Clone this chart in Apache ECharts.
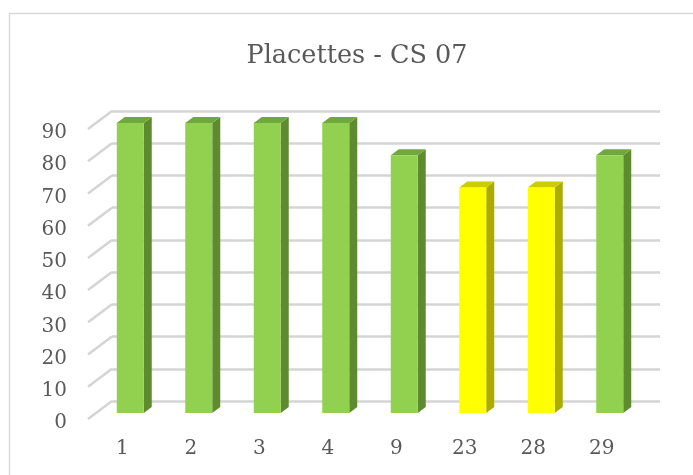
<!DOCTYPE html>
<html><head><meta charset="utf-8">
<script src="https://cdn.jsdelivr.net/npm/echarts@6/dist/echarts.min.js"></script>
<style>html,body{margin:0;padding:0;background:#fff}#c{width:693px;height:475px}</style>
</head><body><div id="c"></div>
<script>
const categories = ['1','2','3','4','9','23','28','29'];
const values = [90,90,90,90,80,70,70,80];
const barKinds = ['g','g','g','g','g','y','y','g'];
const yTicks = [0,10,20,30,40,50,60,70,80,90];

const palette = {
  g: {front:'#92D050', side:'#5F8B2F', top:'#71A83D'},
  y: {front:'#FFFF00', side:'#ABAB00', top:'#CCCC00'}
};
const FONT = 'DejaVu Serif';
const DX = -24, DY = 18; // wall depth
const chart = echarts.init(document.getElementById('c'), null, {renderer:'canvas'});

function barItem(params, api){
  const idx = params.dataIndex;
  const c = api.coord([api.value(0), api.value(1)]);
  const c0 = api.coord([api.value(0), 0]);
  const w = api.size([1,0])[0]*0.394;
  const fx = -16, fy = 12, bx = 8, by = -6;
  const x0 = c[0]-w/2+fx, x1 = x0+w, yT = c[1]+fy, yB = c0[1]+fy;
  const col = palette[barKinds[idx]];
  return {type:'group', children:[
    {type:'polygon', shape:{points:[[x1,yT],[x1+bx,yT+by],[x1+bx,yB+by],[x1,yB]]}, style:{fill:col.side}},
    {type:'polygon', shape:{points:[[x0,yT],[x0+bx,yT+by],[x1+bx,yT+by],[x1,yT]]}, style:{fill:col.top}},
    {type:'rect', shape:{x:x0,y:yT,width:w,height:yB-yT}, style:{fill:col.front}}
  ]};
}
function diagItem(params, api){
  const p = api.coord([0, api.value(0)]);
  const left = p[0]-api.size([1,0])[0]/2;
  return {type:'line', shape:{x1:left,y1:p[1],x2:left+DX,y2:p[1]+DY}, style:{stroke:'#D4D4D4', lineWidth:2.5}};
}

chart.setOption({
  animation:false,
  graphic:[{type:'rect', shape:{x:9.5,y:13.5,width:720,height:520}, style:{fill:null, stroke:'#D9D9D9', lineWidth:1.5}, z:-10}],
  title:{text:'Placettes - CS 07', left:352, textAlign:'center', top:38,
    textStyle:{fontFamily:FONT, fontSize:25.5, fontWeight:'normal', color:'#595959'}},
  grid:[
    {left:112, right:33, top:111, bottom:74},
    {left:88, right:57, top:129, bottom:56},
    {left:88, right:57, top:133, bottom:52}
  ],
  xAxis:[
    {type:'category', gridIndex:0, data:categories, axisLine:{show:false}, axisTick:{show:false}, axisLabel:{show:false}},
    {type:'category', gridIndex:1, data:categories, axisLine:{show:false}, axisTick:{show:false},
      axisLabel:{margin:20, fontFamily:FONT, fontSize:20, color:'#595959'}},
    {type:'category', gridIndex:2, data:categories, show:false}
  ],
  yAxis:[
    {type:'value', gridIndex:0, min:0, max:90, interval:10, axisLabel:{show:false}, axisLine:{show:false}, axisTick:{show:false},
      splitLine:{lineStyle:{color:'#D4D4D4', width:2.5}}},
    {type:'value', gridIndex:1, min:0, max:90, interval:10, show:false},
    {type:'value', gridIndex:2, min:0, max:90, interval:10, axisLine:{show:false}, axisTick:{show:false}, splitLine:{show:false},
      axisLabel:{margin:21, fontFamily:FONT, fontSize:20, color:'#595959'}}
  ],
  series:[
    {type:'custom', xAxisIndex:0, yAxisIndex:0, renderItem:diagItem, data:yTicks.map(v=>[v]), clip:false, z:1},
    {type:'custom', xAxisIndex:0, yAxisIndex:0, renderItem:barItem, data:categories.map((c,i)=>[i, values[i]]), clip:false, z:5}
  ]
});
</script></body></html>
